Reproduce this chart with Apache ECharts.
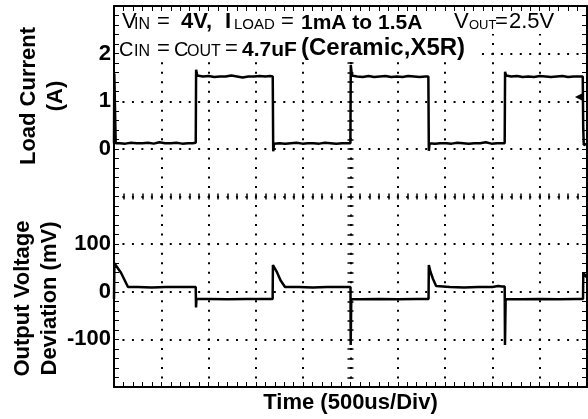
<!DOCTYPE html>
<html><head><meta charset="utf-8">
<script src="https://cdn.jsdelivr.net/npm/echarts@6/dist/echarts.min.js"></script>
<style>html,body{margin:0;padding:0;background:#fff}#c{width:588px;height:419px}</style>
</head><body><div id="c"></div>
<script>
// ---- data (time in microseconds, 500 us per division) ----
const timeCurrent = [0, 3, 14, 18,
  60, 120, 180, 240, 300, 360, 420, 480, 540, 600, 660, 720, 780, 830, 864,
  868, 880,
  940, 1000, 1060, 1120, 1180, 1240, 1300, 1360, 1420, 1480, 1540, 1600, 1650, 1678,
  1683, 1692,
  1750, 1810, 1870, 1930, 1990, 2050, 2110, 2170, 2230, 2290, 2350, 2410, 2460, 2499,
  2503, 2515,
  2570, 2630, 2690, 2750, 2810, 2870, 2930, 2990, 3050, 3110, 3170, 3230, 3290, 3323,
  3328, 3336,
  3390, 3450, 3510, 3570, 3630, 3690, 3750, 3810, 3870, 3930, 3990, 4050, 4100, 4130,
  4134, 4145,
  4200, 4260, 4320, 4380, 4440, 4500, 4560, 4620, 4680, 4740, 4800, 4860, 4920, 4955,
  4960, 4966, 4990, 5000];
const loadCurrent = [0.12, 1.58, 1.55, 0.12,
  0.12, 0.11, 0.13, 0.12, 0.12, 0.13, 0.11, 0.14, 0.12, 0.12, 0.13, 0.11, 0.12, 0.12, 0.13,
  1.66, 1.54,
  1.52, 1.53, 1.51, 1.52, 1.52, 1.54, 1.52, 1.50, 1.52, 1.52, 1.53, 1.52, 1.53, 1.52,
  -0.05, 0.11,
  0.12, 0.11, 0.12, 0.13, 0.11, 0.12, 0.12, 0.11, 0.13, 0.12, 0.11, 0.12, 0.12, 0.12,
  1.76, 1.54,
  1.52, 1.51, 1.53, 1.51, 1.52, 1.53, 1.51, 1.52, 1.51, 1.53, 1.52, 1.51, 1.52, 1.52,
  -0.04, 0.12,
  0.11, 0.12, 0.12, 0.11, 0.13, 0.12, 0.11, 0.12, 0.12, 0.14, 0.11, 0.12, 0.12, 0.12,
  1.62, 1.54,
  1.52, 1.53, 1.51, 1.52, 1.51, 1.53, 1.52, 1.51, 1.52, 1.53, 1.51, 1.52, 1.52, 1.52,
  0.45, 0.08, 0.10, 0.10];

const timeVout = [0, 4, 20, 74, 148,
  250, 400, 550, 700, 864,
  867, 872, 880,
  1000, 1200, 1400, 1600, 1677,
  1680, 1723, 1760, 1808,
  1950, 2100, 2250, 2400, 2500,
  2502, 2508,
  2600, 2800, 3000, 3200, 3325,
  3328, 3345, 3370, 3405,
  3550, 3700, 3850, 4000, 4060, 4100, 4130,
  4133, 4140,
  4300, 4500, 4700, 4900, 4958,
  4961, 4985, 5000];
const voutDeviation = [-15, 60, 58, 40, 10,
  10, 9, 10, 10, 10,
  -33, -15, -16,
  -15, -16, -15, -15, -15,
  56, 41, 24, 10,
  10, 9, 10, 10, 10,
  -112, -15,
  -16, -15, -16, -15, -15,
  56, 42, 28, 12,
  10, 9, 10, 10, 12, 11, 11,
  -112, -15,
  -16, -15, -16, -15, -15,
  40, 33, 30];

const currentTickLabels = [0, 1, 2];
const voltageTickLabels = [-100, 0, 100];
const xAxisTitle = 'Time (500us/Div)';
const currentTitle = 'Load Current\n(A)';
const voltageTitle = 'Output Voltage\nDeviation (mV)';
const markerCurrent = 1.09;

// ---- build ----
const ARIAL = '"Liberation Sans", Arial, sans-serif';
const curData = timeCurrent.map((t, i) => [t, loadCurrent[i]]);
const voutData = timeVout.map((t, i) => [t, voutDeviation[i]]);

const tick = {show: true, inside: true, length: 5, lineStyle: {color: '#000', width: 1}};
const minor = {show: true, splitNumber: 5, length: 5, lineStyle: {color: '#000', width: 1}};
const border = {show: true, onZero: false, lineStyle: {color: '#000', width: 2}};
const noLine = {show: false, onZero: false};
const labelFont = {fontFamily: ARIAL, fontWeight: 'bold', fontSize: 22, color: '#000'};

function piece(text, x, baseline, size, weight, family) {
  return {type: 'text', z: 60, x: x, y: baseline - 0.3465 * size,
    style: {text: text, font: weight + ' ' + size + 'px ' + family, align: 'left', verticalAlign: 'middle', fill: '#000'}};
}

const chart = echarts.init(document.getElementById('c'), null, {renderer: 'canvas'});
chart.setOption({
  animation: false,
  backgroundColor: '#fff',
  grid: {left: 114, top: 6, right: 1, bottom: 32, containLabel: false, outerBoundsMode: 'none'},
  xAxis: [
    {type: 'value', position: 'bottom', min: 0, max: 5000, interval: 500,
     axisLine: border, axisTick: tick, minorTick: minor,
     axisLabel: {show: false},
     splitLine: {show: true, lineStyle: {color: '#000', width: 2, type: [2, 7.525], dashOffset: 1}},
     name: xAxisTitle, nameLocation: 'middle', nameGap: 5, nameTextStyle: labelFont},
    {type: 'value', position: 'top', min: 0, max: 5000, interval: 500,
     axisLine: border, axisTick: tick, minorTick: minor, axisLabel: {show: false}, splitLine: {show: false}},
    {type: 'value', position: 'bottom', offset: -187.5, min: 0, max: 5000, interval: 500,
     axisLine: noLine, axisTick: {show: true, inside: true, length: 6, lineStyle: {color: '#000', width: 1.5}},
     minorTick: {show: true, splitNumber: 5, length: 6, lineStyle: {color: '#000', width: 1.5}},
     axisLabel: {show: false}, splitLine: {show: false}}
  ],
  yAxis: [
    {type: 'value', position: 'left', min: -5, max: 3, interval: 1,
     axisLine: border, axisTick: tick, minorTick: minor,
     axisLabel: Object.assign({show: true, margin: 3, padding: [4, 0, 0, 0],
       formatter: v => currentTickLabels.indexOf(v) >= 0 ? String(v) : ''}, labelFont),
     splitLine: {show: true, lineStyle: {color: '#000', width: 2, type: [2, 7.46], dashOffset: 1}}},
    {type: 'value', position: 'left', min: -200, max: 600, interval: 100,
     axisLine: noLine, axisTick: {show: false},
     axisLabel: Object.assign({show: true, margin: 3, padding: [4, 0, 0, 0],
       formatter: v => voltageTickLabels.indexOf(v) >= 0 ? String(v) : ''}, labelFont),
     splitLine: {show: false}},
    {type: 'value', position: 'right', min: -5, max: 3, interval: 1,
     axisLine: border, axisTick: tick, minorTick: minor, axisLabel: {show: false}, splitLine: {show: false}},
    {type: 'value', position: 'left', offset: -233.5, min: -5, max: 3, interval: 1,
     axisLine: noLine, axisTick: {show: true, inside: true, length: 6, lineStyle: {color: '#000', width: 1.5}},
     minorTick: {show: true, splitNumber: 5, length: 6, lineStyle: {color: '#000', width: 1.5}},
     axisLabel: {show: false}, splitLine: {show: false}}
  ],
  series: [
    {type: 'line', name: 'Load Current', xAxisIndex: 0, yAxisIndex: 0, data: curData,
     showSymbol: false, symbol: 'none', lineStyle: {color: '#000', width: 2.5}, z: 5,
     markPoint: {symbol: 'triangle', symbolRotate: 90, symbolSize: [8, 8], label: {show: false},
       itemStyle: {color: '#000'}, data: [{coord: [4915, markerCurrent]}]}},
    {type: 'line', name: 'Output Voltage', xAxisIndex: 0, yAxisIndex: 1, data: voutData,
     showSymbol: false, symbol: 'none', lineStyle: {color: '#000', width: 2.5}, z: 5}
  ],
  graphic: [
    {type: 'rect', z: 50, shape: {x: 120, y: 12, width: 452, height: 22}, style: {fill: '#fff'}},
    {type: 'rect', z: 50, shape: {x: 120, y: 34, width: 357, height: 27}, style: {fill: '#fff'}},
    piece('V', 122, 30, 22, 'normal', ARIAL),
    piece('IN', 134, 30, 16, 'normal', ARIAL),
    piece('=', 157, 30, 22, 'normal', ARIAL),
    piece('4V,', 181, 30, 22, 'bold', ARIAL),
    piece('I', 225, 30, 22, 'bold', ARIAL),
    piece('LOAD', 234, 30, 15, 'normal', ARIAL),
    piece('=', 281, 30, 22, 'normal', ARIAL),
    piece('1mA to 1.5A', 301, 30, 21, 'bold', ARIAL),
    piece('V', 454, 30, 22, 'normal', ARIAL),
    piece('OUT', 469, 30, 13, 'normal', ARIAL),
    piece('=', 495, 30, 22, 'normal', ARIAL),
    piece('2.5V', 509, 30, 22, 'normal', ARIAL),
    piece('C', 119, 57, 20, 'normal', ARIAL),
    piece('IN', 134, 57, 16, 'normal', ARIAL),
    piece('=', 157, 57, 22, 'normal', ARIAL),
    piece('C', 174, 57, 20, 'normal', ARIAL),
    piece('OUT', 187, 57, 16, 'normal', ARIAL),
    piece('=', 225, 57, 22, 'normal', ARIAL),
    piece('4.7uF', 242, 57, 21, 'bold', ARIAL),
    piece('(Ceramic,X5R)', 301, 57, 24, 'bold', ARIAL),
    {type: 'text', z: 60, x: 42, y: 96, rotation: Math.PI / 2,
     style: {text: currentTitle, font: 'bold 22px ' + ARIAL, align: 'center', verticalAlign: 'middle', lineHeight: 27, fill: '#000'}},
    {type: 'text', z: 60, x: 36.5, y: 298.5, rotation: Math.PI / 2,
     style: {text: voltageTitle, font: 'bold 22px ' + ARIAL, align: 'center', verticalAlign: 'middle', lineHeight: 27, fill: '#000'}}
  ]
});
</script>
</body></html>
